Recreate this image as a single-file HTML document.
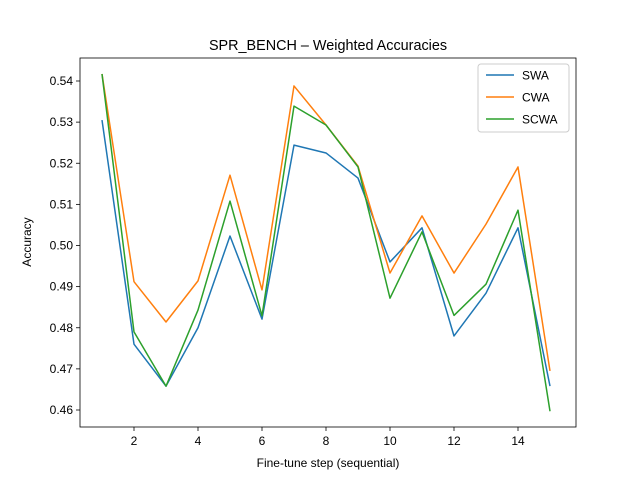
<!DOCTYPE html>
<html><head><meta charset="utf-8"><style>
body{margin:0;background:#fff}
svg{font-family:"Liberation Sans","DejaVu Sans",sans-serif}
</style></head><body>
<svg id="c" width="640" height="480" xmlns="http://www.w3.org/2000/svg">
<rect width="640" height="480" fill="#fff"/>
</svg>
<script>
const steps=[1,2,3,4,5,6,7,8,9,10,11,12,13,14,15];
const swa=[0.5305,0.476,0.4658,0.480,0.5023,0.4821,0.5244,0.5225,0.5164,0.496,0.5043,0.478,0.4884,0.5043,0.4658];
const cwa=[0.5417,0.4912,0.4814,0.4914,0.5171,0.4892,0.5388,0.5293,0.5193,0.4933,0.5072,0.4933,0.5052,0.5191,0.4695];
const scwa=[0.5417,0.479,0.4658,0.4843,0.5108,0.4829,0.5339,0.5293,0.5191,0.4872,0.5033,0.483,0.4906,0.5086,0.4597];
const xTicks=[2,4,6,8,10,12,14];
const yTicks=[0.46,0.47,0.48,0.49,0.50,0.51,0.52,0.53,0.54];
const L=80,R=576,T=58,B=427;
const X=v=>102+(v-1)*32;
const Y=v=>410-(v-0.46)/0.01*41.125;
const svg=document.getElementById('c');
const NS='http://www.w3.org/2000/svg';
function mk(t,a,p){const e=document.createElementNS(NS,t);for(const k in a)e.setAttribute(k,a[k]);(p||svg).appendChild(e);return e;}
xTicks.forEach(v=>{
 const g=mk('g',{});
 
 
 mk('line',{x1:X(v),x2:X(v),y1:B,y2:B+4,stroke:'#000','stroke-width':0.8},g);
 const t=mk('text',{x:X(v),y:B+18,'text-anchor':'middle','font-size':12},g);t.textContent=v;
});
yTicks.forEach(v=>{
 const g=mk('g',{});
 
 
 mk('line',{x1:L-4,x2:L,y1:Y(v),y2:Y(v),stroke:'#000','stroke-width':0.8},g);
 const t=mk('text',{x:L-7,y:Y(v)+4,'text-anchor':'end','font-size':12},g);t.textContent=v.toFixed(2);
});
const series=[['SWA',swa,'#1f77b4'],['CWA',cwa,'#ff7f0e'],['SCWA',scwa,'#2ca02c']];
series.forEach(([n,d,c])=>{
 const p=mk('polyline',{points:d.map((v,i)=>X(steps[i])+','+Y(v)).join(' '),fill:'none',stroke:c,'stroke-width':1.5,'stroke-linejoin':'round'});
 
 
});
const ax=mk('rect',{x:L,y:T,width:R-L,height:B-T,fill:'none',stroke:'#000','stroke-width':0.8});


const ti=mk('text',{x:328,y:50,'text-anchor':'middle','font-size':14.4});ti.textContent='SPR_BENCH – Weighted Accuracies';

const xl=mk('text',{x:328,y:467,'text-anchor':'middle','font-size':12});xl.textContent='Fine-tune step (sequential)';

const yl=mk('text',{x:31,y:242,'text-anchor':'middle','font-size':12,transform:'rotate(-90 31 242)'});yl.textContent='Accuracy';

const lg=mk('g',{});

mk('rect',{x:478,y:64,width:91,height:68,rx:3,fill:'#fff',stroke:'#ccc'},lg);
series.forEach(([n,d,c],i)=>{
 const e=mk('g',{},lg);
 
 
 const y=75+i*22;
 mk('line',{x1:486,x2:514,y1:y,y2:y,stroke:c,'stroke-width':1.5},e);
 const t=mk('text',{x:522,y:y+4.5,'font-size':12},e);t.textContent=n;
});
</script>
</body></html>
